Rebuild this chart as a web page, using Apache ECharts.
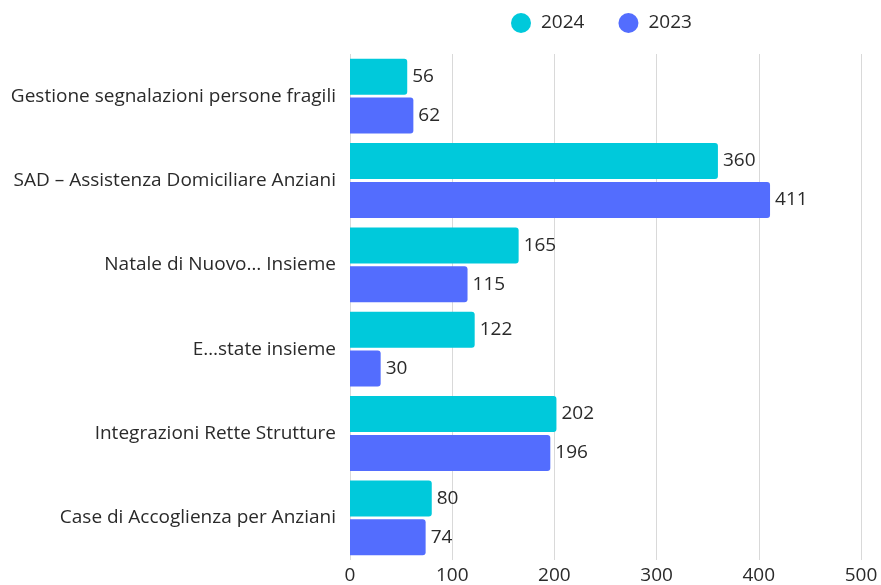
<!DOCTYPE html>
<html>
<head>
<meta charset="utf-8">
<script src="https://cdn.jsdelivr.net/npm/echarts@6/dist/echarts.min.js"></script>
<style>
  html, body { margin: 0; padding: 0; background: #ffffff; }
  #chart { width: 881px; height: 585px; }
</style>
</head>
<body>
<div id="chart"></div>
<script>
// Servizi per anziani: numero di utenti per servizio, 2024 vs 2023
const categories = [
  'Gestione segnalazioni persone fragili',
  'SAD – Assistenza Domiciliare Anziani',
  'Natale di Nuovo… Insieme',
  'E…state insieme',
  'Integrazioni Rette Strutture',
  'Case di Accoglienza per Anziani'
];
const values2024 = [56, 360, 165, 122, 202, 80];
const values2023 = [62, 411, 115, 30, 196, 74];
const seriesNames = ['2024', '2023'];

const FONT = '"Open Sans", "Noto Sans", sans-serif';
const TEXT = '#2a2a2a';
const FS = 19;

const chart = echarts.init(document.getElementById('chart'), null, { renderer: 'canvas' });

function barSeries(name, data, color) {
  return {
    name: name,
    type: 'bar',
    data: data,
    barWidth: 36,
    barGap: '8%',
    itemStyle: { color: color, borderRadius: [0, 3, 3, 0] },
    label: {
      show: true,
      position: 'right',
      distance: 5,
      color: TEXT,
      fontFamily: FONT,
      fontSize: FS
    }
  };
}

chart.setOption({
  animation: false,
  textStyle: { fontFamily: FONT },
  legend: {
    top: 8,
    left: 506,
    icon: 'circle',
    itemWidth: 20,
    itemHeight: 20,
    itemGap: 34,
    textStyle: { color: TEXT, fontFamily: FONT, fontSize: FS, padding: [0, 0, 0, 5] },
    data: seriesNames
  },
  grid: { left: 350, right: 20, top: 54, bottom: 22, containLabel: false },
  xAxis: {
    type: 'value',
    min: 0,
    max: 500,
    interval: 100,
    axisLine: { show: false },
    axisTick: { show: false },
    axisLabel: { color: TEXT, fontFamily: FONT, fontSize: FS, margin: 6 },
    splitLine: { show: true, lineStyle: { color: '#d9d9d9', width: 1 } }
  },
  yAxis: {
    type: 'category',
    inverse: true,
    data: categories,
    axisLine: { show: false },
    axisTick: { show: false },
    axisLabel: { color: TEXT, fontFamily: FONT, fontSize: FS, margin: 14 }
  },
  series: [
    barSeries(seriesNames[0], values2024, '#00c9db'),
    barSeries(seriesNames[1], values2023, '#536dfe')
  ]
});
</script>
</body>
</html>
